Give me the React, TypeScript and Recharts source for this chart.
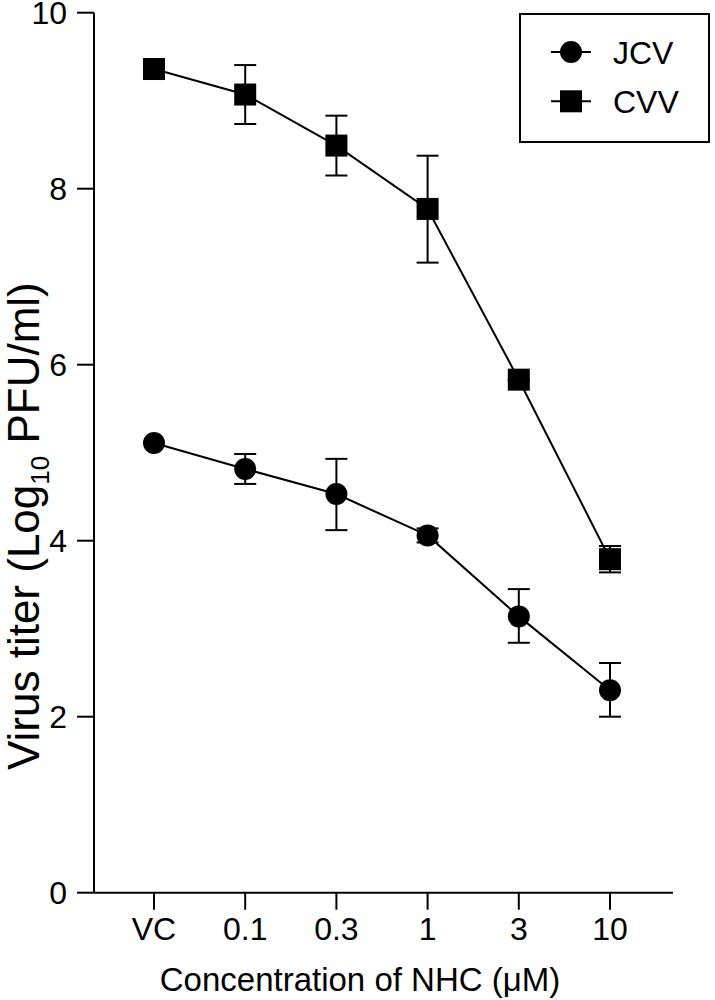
import React from 'react';
import { LineChart, Line, XAxis, YAxis, ErrorBar, Legend } from 'recharts';

const categories = ['VC', '0.1', '0.3', '1', '3', '10'];
const jcvValues = [5.11, 4.815, 4.53, 4.06, 3.14, 2.3];
const jcvErrLow = [0, 0.17, 0.41, 0.08, 0.3, 0.3];
const jcvErrHigh = [0, 0.17, 0.4, 0.08, 0.31, 0.31];
const cvvValues = [9.36, 9.07, 8.49, 7.77, 5.83, 3.79];
const cvvErrLow = [0, 0.335, 0.34, 0.61, 0, 0.15];
const cvvErrHigh = [0, 0.335, 0.34, 0.605, 0, 0.15];
const yTicks = [0, 2, 4, 6, 8, 10];

const seriesList = [
  { key: 'jcv', errKey: 'jcvErr', name: 'JCV', shape: 'circle' },
  { key: 'cvv', errKey: 'cvvErr', name: 'CVV', shape: 'square' },
];

const data = categories.map((name, i) => ({
  name,
  jcv: jcvValues[i],
  jcvErr: [jcvErrLow[i], jcvErrHigh[i]],
  cvv: cvvValues[i],
  cvvErr: [cvvErrLow[i], cvvErrHigh[i]],
}));

const FONT = '"Liberation Sans", Arial, Helvetica, sans-serif';
const INK = '#000';

const Marker = ({ shape, cx, cy }: { shape: string; cx: number; cy: number }) =>
  shape === 'circle' ? (
    <circle cx={cx} cy={cy} r={11} fill={INK} stroke="none" />
  ) : (
    <rect x={cx - 11} y={cy - 11} width={22} height={22} fill={INK} stroke="none" />
  );

const makeDot = (shape: string) => (props: any) => {
  const { cx, cy, index } = props;
  if (cx == null || cy == null) return <g key={`d-${shape}-${index}`} />;
  return (
    <g key={`d-${shape}-${index}`}>
      <Marker shape={shape} cx={cx} cy={cy} />
    </g>
  );
};

const LegendBox = () => (
  <div
    style={{
      width: 191,
      height: 130,
      boxSizing: 'border-box',
      border: `2px solid ${INK}`,
      background: '#fff',
    }}
  >
    <svg width={187} height={126} style={{ display: 'block' }}>
      {seriesList.map((s, i) => {
        const cy = 37 + i * 49.3;
        return (
          <g key={s.key}>
            <line x1={30} x2={70} y1={cy} y2={cy} stroke={INK} strokeWidth={2} />
            <Marker shape={s.shape} cx={50} cy={cy} />
            <text x={92} y={cy + 11.5} fontSize={32} fontFamily={FONT} fill={INK}>
              {s.name}
            </text>
          </g>
        );
      })}
    </svg>
  </div>
);

const XTitle = () => (
  <text x={360} y={991} textAnchor="middle" fontSize={33} fontFamily={FONT} fill={INK}>
    Concentration of NHC (μM)
  </text>
);

const YTitle = () => (
  <text
    transform="rotate(-90)"
    x={-770}
    y={39}
    textAnchor="start"
    fontSize={44}
    fontFamily={FONT}
    fill={INK}
  >
    Virus titer (Log
    <tspan fontSize={26} dy={10}>10</tspan>
    <tspan dy={-10}> PFU/ml)</tspan>
  </text>
);

export default function App() {
  return (
    <div style={{ position: 'absolute', left: 0, top: 0, width: 715, height: 1000, background: '#fff' }}>
      <LineChart
        width={715}
        height={1000}
        data={data}
        margin={{ top: 12.7, right: 42, bottom: 0, left: 0 }}
      >
        <XAxis
          dataKey="name"
          scale="point"
          padding={{ left: 60, right: 63 }}
          height={107.3}
          tickSize={17}
          tickMargin={8}
          axisLine={{ stroke: INK, strokeWidth: 2 }}
          tickLine={{ stroke: INK, strokeWidth: 2 }}
          tick={{ fontSize: 32, fontFamily: FONT, fill: INK }}
          interval={0}
          label={<XTitle />}
        />
        <YAxis
          type="number"
          domain={[0, 10]}
          ticks={yTicks}
          width={94}
          tickSize={17}
          tickMargin={10}
          axisLine={{ stroke: INK, strokeWidth: 2 }}
          tickLine={{ stroke: INK, strokeWidth: 2 }}
          tick={{ fontSize: 32, fontFamily: FONT, fill: INK }}
          interval={0}
          label={<YTitle />}
        />
        <Legend
          layout="horizontal"
          verticalAlign="middle"
          align="center"
          content={() => <LegendBox />}
          wrapperStyle={{ left: 519, top: 13, width: 191, height: 130 }}
        />
        {seriesList.map((s) => (
          <Line
            key={s.key}
            dataKey={s.key}
            name={s.name}
            stroke={INK}
            strokeWidth={2}
            dot={makeDot(s.shape)}
            activeDot={false}
            isAnimationActive={false}
          >
            <ErrorBar dataKey={s.errKey} width={11} stroke={INK} strokeWidth={2} direction="y" />
          </Line>
        ))}
      </LineChart>
    </div>
  );
}
